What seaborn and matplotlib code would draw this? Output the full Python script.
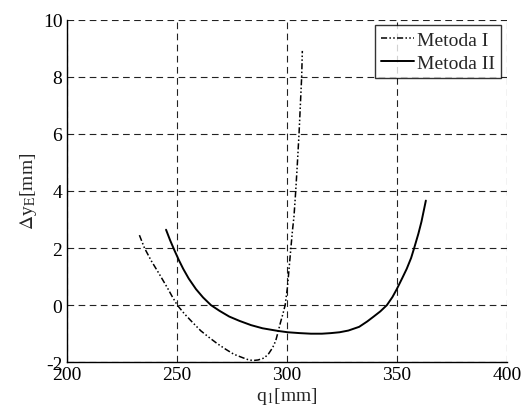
import matplotlib
matplotlib.use("Agg")
import matplotlib.pyplot as plt
import pandas as pd
import seaborn as sns

# Metoda I (dash-dot)
q1_m1 = [233.1, 235.4, 238.5, 242.2, 246.0, 248.0, 250.3, 253.5, 257.3, 261.0,
         264.9, 268.5, 272.4, 276.0, 280.0, 282.5, 284.7, 287.0, 289.8, 291.8,
         293.6, 295.0, 295.8, 297.2, 298.3, 299.3, 300.3, 301.1, 301.9, 302.6,
         303.3, 304.1, 304.8, 305.6, 306.2, 306.8, 307.1]
dy_m1 = [2.45, 2.00, 1.55, 1.08, 0.58, 0.30, 0.0, -0.30, -0.61, -0.90,
         -1.14, -1.35, -1.55, -1.72, -1.84, -1.91, -1.94, -1.92, -1.85, -1.70,
         -1.49, -1.25, -1.02, -0.60, -0.30, 0.0, 0.60, 1.30, 2.00, 2.60,
         3.10, 4.00, 4.90, 6.00, 7.00, 8.00, 8.90]

# Metoda II (solid)
q1_m2 = [245.2, 247.0, 249.0, 251.0, 253.0, 255.5, 258.8, 262.0, 265.6, 269.5,
         273.9, 278.5, 283.8, 289.0, 295.8, 300.5, 306.0, 311.0, 316.0, 320.0,
         324.0, 328.0, 332.9, 336.6, 339.5, 342.5, 345.5, 348.0, 350.0, 352.5,
         354.5, 356.5, 357.9, 359.8, 361.2, 362.5, 363.2]
dy_m2 = [2.64, 2.28, 1.92, 1.58, 1.27, 0.93, 0.56, 0.27, 0.0, -0.20,
         -0.40, -0.55, -0.70, -0.81, -0.90, -0.95, -0.98, -1.00, -1.00, -0.98,
         -0.95, -0.89, -0.76, -0.57, -0.40, -0.22, 0.0, 0.28, 0.56, 0.95,
         1.27, 1.65, 2.00, 2.50, 2.92, 3.40, 3.66]

df = pd.concat([
    pd.DataFrame({"q1": q1_m1, "dy": dy_m1, "metoda": "Metoda I"}),
    pd.DataFrame({"q1": q1_m2, "dy": dy_m2, "metoda": "Metoda II"}),
], ignore_index=True)

sns.set_style("white")
plt.rcParams["font.family"] = ["Liberation Serif", "DejaVu Serif"]
plt.rcParams["mathtext.fontset"] = "stix"
plt.rcParams["axes.unicode_minus"] = False
plt.rcParams["grid.linestyle"] = "--"
plt.rcParams["lines.dashed_pattern"] = [6.0, 4.0]

fig = plt.figure(figsize=(5.28, 4.10), dpi=100)
ax = fig.add_axes([0.126, 0.114, 0.834, 0.836])

sns.lineplot(data=df, x="q1", y="dy", hue="metoda", style="metoda",
             palette=["black", "black"], sort=False, estimator=None,
             dashes={"Metoda I": (4, 1.5, 1, 1.5, 1, 1.5), "Metoda II": ""},
             ax=ax, linewidth=1.1)
for ln in ax.get_lines():
    if ln.get_linestyle() == "-":
        ln.set_linewidth(1.4)

ax.set_xlim(200, 400)
ax.set_ylim(-2, 10)
ax.set_xticks([200, 250, 300, 350, 400])
ax.set_yticks([-2, 0, 2, 4, 6, 8, 10])
ax.set_axisbelow(True)
ax.grid(True, color="#222222", linestyle="--", linewidth=0.8)
for gl in ax.get_xgridlines() + ax.get_ygridlines():
    gl.set_dashes([6, 4])
for s in ("top", "right"):
    ax.spines[s].set_visible(False)
for s in ("left", "bottom"):
    ax.spines[s].set_color("black")
    ax.spines[s].set_linewidth(1.0)
ax.tick_params(direction="in", length=0, labelsize=14, colors="black", pad=3)

ax.set_xlabel(r"q$_1$[mm]", fontsize=14, labelpad=1)
ax.set_ylabel(r"$\Delta$y$_\mathrm{E}$[mm]", fontsize=14, labelpad=3)

leg = ax.legend(loc="upper right", fontsize=14, frameon=True, fancybox=False,
                edgecolor="black", handlelength=1.7, handletextpad=0.15,
                borderpad=0.3, labelspacing=0.3, borderaxespad=0.3)
leg.get_frame().set_linewidth(1.0)
leg.set_title(None)

fig.savefig("out.png", dpi=100)
